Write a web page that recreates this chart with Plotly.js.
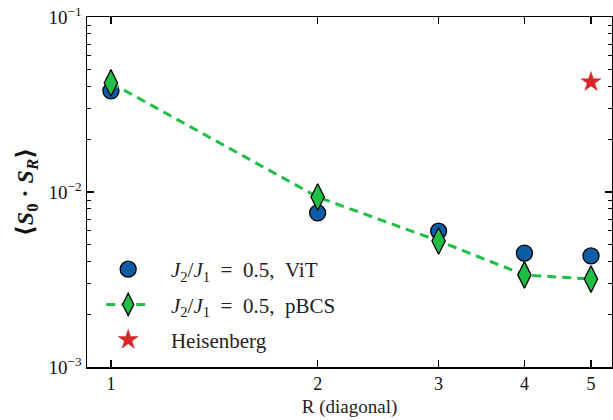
<!DOCTYPE html>
<html>
<head>
<meta charset="utf-8">
<script src="https://cdn.plot.ly/plotly-3.0.1.min.js"></script>
<style>
  html, body { margin: 0; padding: 0; background: #fff; }
  #chart { width: 613px; height: 420px; }
</style>
</head>
<body>
<div id="chart"></div>
<script>
// Spin-spin correlation along the diagonal
const distR = [1, 2, 3, 4, 5];
const corrViT = [0.0378, 0.00759, 0.00598, 0.00448, 0.00431];
const corrPBCS = [0.0420, 0.00936, 0.00525, 0.00336, 0.00318];
const heisR = [5];
const heisCorr = [0.0425];

const yTickVals = [0.001, 0.01, 0.1];
const yTickText = ['10<sup>−3</sup>', '10<sup>−2</sup>', '10<sup>−1</sup>'];
const xTickVals = [1, 2, 3, 4, 5];

const serif = 'Liberation Serif, DejaVu Serif, serif';
const pad = '\u00a0\u00a0\u00a0';
const sp2 = '\u00a0\u00a0';

const traces = [
  {
    x: distR, y: corrViT, type: 'scatter', mode: 'markers',
    name: pad + '<i>J</i><sub>2</sub>/<i>J</i><sub>1</sub>' + sp2 + '=' + sp2 + '0.5,' + sp2 + 'ViT', legendgroup: 'a',
    marker: { symbol: 'circle', size: 16, color: '#0d5ca6', line: { color: '#000', width: 1.3 } }
  },
  {
    x: distR, y: corrPBCS, type: 'scatter', mode: 'lines+markers',
    name: pad + '<i>J</i><sub>2</sub>/<i>J</i><sub>1</sub>' + sp2 + '=' + sp2 + '0.5,' + sp2 + 'pBCS', legendgroup: 'b',
    line: { color: '#1fbf45', width: 3, dash: '9px,6px' },
    marker: { symbol: 'diamond-tall', size: 19, color: '#1fbf45', line: { color: '#000', width: 1.3 } }
  },
  {
    x: heisR, y: heisCorr, type: 'scatter', mode: 'markers',
    name: pad + 'Heisenberg', legendgroup: 'c',
    marker: { symbol: 'star', size: 15, color: '#d62728', line: { color: '#d62728', width: 0.5 } }
  }
];

const layout = {
  width: 613, height: 420,
  margin: { l: 87, r: 1, t: 17, b: 53 },
  paper_bgcolor: '#fff', plot_bgcolor: '#fff',
  font: { family: serif, color: '#222', size: 17 },
  showlegend: true,
  legend: {
    x: 0.027, y: 0.02, xanchor: 'left', yanchor: 'bottom',
    bgcolor: 'rgba(0,0,0,0)', font: { family: serif, size: 21, color: '#222' },
    traceorder: 'grouped', tracegroupgap: 5, itemwidth: 44
  },
  xaxis: {
    type: 'log', range: [Math.log10(0.923), Math.log10(5.365)],
    tickvals: xTickVals, ticktext: xTickVals.map(String),
    ticks: 'inside', ticklen: 7, tickwidth: 1.3, tickcolor: '#000',
    showline: true, linecolor: '#000', linewidth: 1.5, mirror: 'ticks',
    showgrid: false, zeroline: false,
    tickfont: { family: serif, size: 18, color: '#111' },
    title: { text: 'R (diagonal)', font: { family: serif, size: 19, color: '#222' }, standoff: 6 }
  },
  yaxis: {
    type: 'log', range: [-3, -1],
    tickvals: yTickVals, ticktext: yTickText,
    ticks: 'inside', ticklen: 7, tickwidth: 1.3, tickcolor: '#000',
    minor: { ticks: 'inside', ticklen: 4, tickwidth: 1, tickcolor: '#000',
             tickvals: [0.002,0.003,0.004,0.005,0.006,0.007,0.008,0.009,
                        0.02,0.03,0.04,0.05,0.06,0.07,0.08,0.09] },
    showline: true, linecolor: '#000', linewidth: 1.5, mirror: 'ticks',
    showgrid: false, zeroline: false,
    tickfont: { family: serif, size: 19, color: '#111' },
    title: {
      text: '<b>⟨<i>S</i><sub>0</sub> · <i>S</i><sub><i>R</i></sub>⟩</b>',
      font: { family: serif, size: 24, color: '#111' }, standoff: 8
    }
  }
};

Plotly.newPlot('chart', traces, layout, { displayModeBar: false, staticPlot: true });
</script>
</body>
</html>
